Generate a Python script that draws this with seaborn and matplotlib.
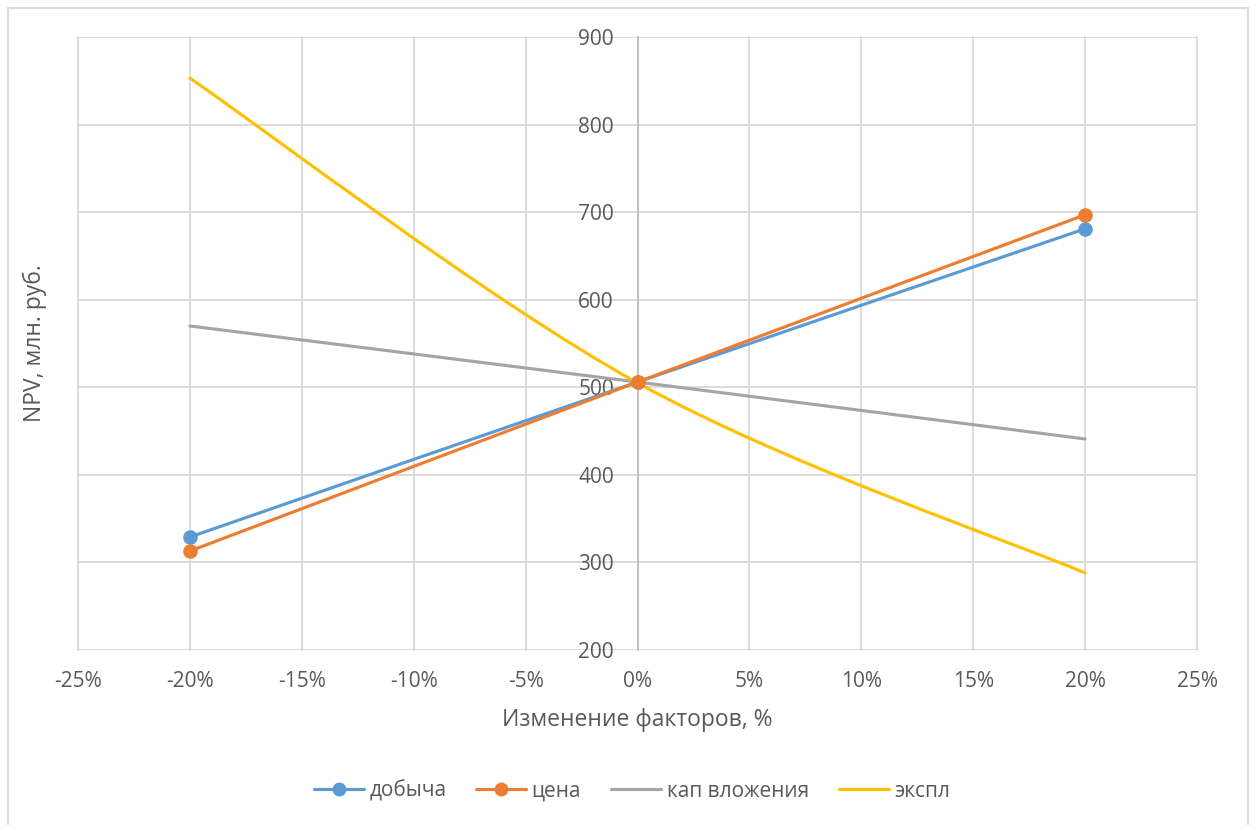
import numpy as np
import matplotlib
matplotlib.use("Agg")
import matplotlib.pyplot as plt
from matplotlib.path import Path
from matplotlib.patches import PathPatch, Rectangle
from matplotlib.lines import Line2D
from matplotlib.ticker import FuncFormatter, MultipleLocator
import seaborn as sns

# Sensitivity of NPV to changes in the key factors
change_pct = [-20, 0, 20]
dobycha = [329, 506, 681]
tsena = [313, 506, 697]
kap_vlozheniya = [570, 506, 441]
ekspl = [853, 505, 288]

series_names = ["добыча", "цена", "кап вложения", "экспл"]
series_values = [dobycha, tsena, kap_vlozheniya, ekspl]
series_colors = ["#5B9BD5", "#ED7D31", "#A5A5A5", "#FFC000"]
series_markers = [True, True, False, False]

sns.set_theme(style="white")
plt.rcParams["font.family"] = ["Open Sans", "DejaVu Sans"]

W, H = 1256, 825
fig = plt.figure(figsize=(W / 100, H / 100), dpi=100)
ax = fig.add_axes([78 / W, 1 - 650 / H, (1197 - 78) / W, (650 - 37) / H])

text_color = "#595959"
grid_color = "#D9D9D9"
tick_size = 15
title_size = 16.5


def smooth_path(xs, ys):
    """Cubic Bezier path through the points (Catmull-Rom style tangents)."""
    pts = np.column_stack([xs, ys]).astype(float)
    n = len(pts)
    verts = [pts[0]]
    codes = [Path.MOVETO]
    for i in range(n - 1):
        p0 = pts[i - 1] if i > 0 else pts[i]
        p1 = pts[i]
        p2 = pts[i + 1]
        p3 = pts[i + 2] if i + 2 < n else pts[i + 1]
        c1 = p1 + (p2 - p0) / 6.0
        c2 = p2 - (p3 - p1) / 6.0
        verts += [c1, c2, p2]
        codes += [Path.CURVE4] * 3
    return Path(verts, codes)


handles = []
for name, vals, color, has_marker in zip(series_names, series_values,
                                         series_colors, series_markers):
    patch = PathPatch(smooth_path(change_pct, vals), fill=False,
                      edgecolor=color, lw=2.25, capstyle="round",
                      joinstyle="round", zorder=3)
    ax.add_patch(patch)
    if has_marker:
        sns.scatterplot(x=change_pct, y=vals, ax=ax, color=color, s=110,
                        edgecolor=color, linewidth=0, zorder=4, legend=False)
    handles.append(Line2D([0], [0], color=color, lw=2.25,
                          marker="o" if has_marker else None,
                          markersize=10, markeredgewidth=0, label=name))

ax.set_xlim(-25, 25)
ax.set_ylim(200, 900)
ax.xaxis.set_major_locator(MultipleLocator(5))
ax.yaxis.set_major_locator(MultipleLocator(100))
ax.xaxis.set_major_formatter(FuncFormatter(lambda v, p: f"{v:.0f}%"))
ax.yaxis.set_major_formatter(FuncFormatter(lambda v, p: f"{v:.0f}"))

ax.grid(True, color=grid_color, lw=1.3)
for gl in ax.get_xgridlines() + ax.get_ygridlines():
    gl.set_clip_on(False)
ax.set_axisbelow(True)

for side in ["top", "right", "bottom"]:
    ax.spines[side].set_visible(False)
ax.spines["left"].set_position(("data", 0))
ax.spines["left"].set_color("#BFBFBF")
ax.spines["left"].set_linewidth(1.3)
ax.spines["left"].set_zorder(2)

ax.tick_params(axis="y", length=0, pad=17, labelsize=tick_size, labelcolor=text_color)
ax.tick_params(axis="x", length=0, pad=15, labelsize=tick_size, labelcolor=text_color)

fig.text(637 / W, 1 - 720 / H, "Изменение факторов, %", ha="center",
         va="center", fontsize=title_size, color=text_color)
fig.text(35 / W, 1 - 343 / H, "NPV, млн. руб.", ha="center", va="center",
         rotation=90, fontsize=title_size, color=text_color)

fig.legend(handles=handles, loc="center", bbox_to_anchor=(632 / W, 1 - 791 / H),
           ncol=4, frameon=False, fontsize=tick_size, labelcolor=text_color,
           handlelength=2.4, handletextpad=0.25, columnspacing=1.45)

fig.add_artist(Rectangle((7.5 / W, -0.02), (1248 - 7.5) / W, 1 - 8 / H + 0.02,
                         transform=fig.transFigure, fill=False,
                         edgecolor=grid_color, lw=1.3))

fig.savefig("out.png", dpi=100)
